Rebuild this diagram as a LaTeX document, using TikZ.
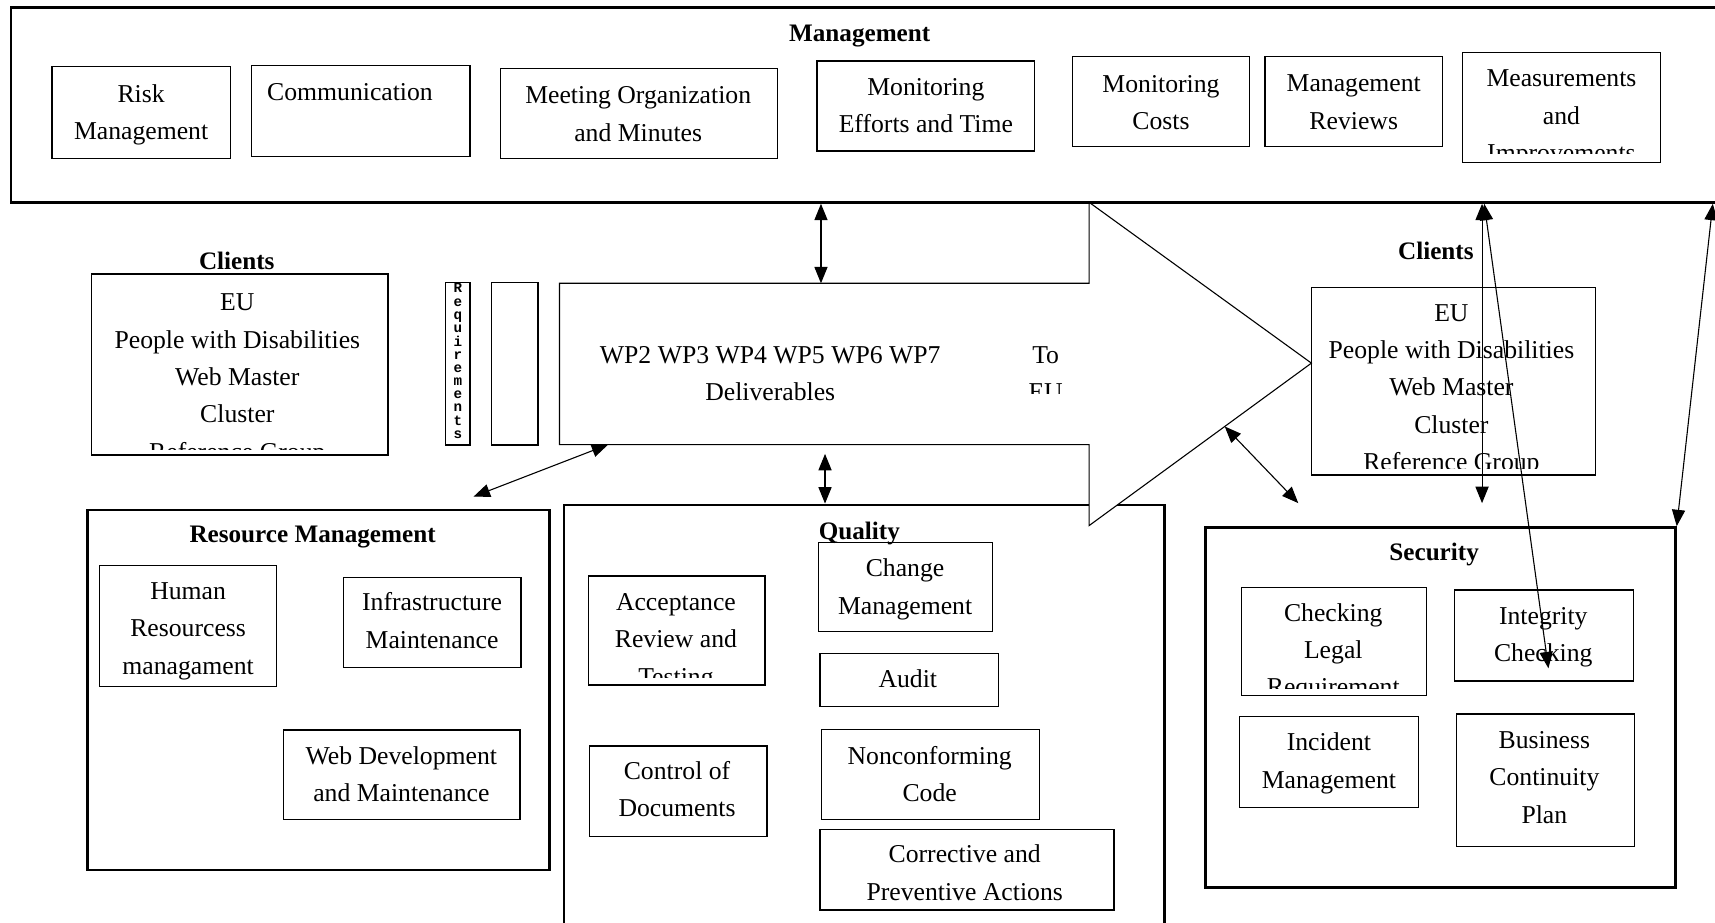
\documentclass[tikz,border=0pt]{standalone}
\usepackage{fontspec}
\setmainfont{Liberation Serif}
\newfontfamily\reqfont{Liberation Mono}
\usetikzlibrary{fit,arrows.meta,calc}
\newcommand\mylines[1]{\begin{tabular}[t]{@{}c@{}}#1\end{tabular}}
% name, x1, y1, x2, y2, text cx, first line centre y, clip bottom, text
\newcommand\bx[9]{%
  \node[box, fit={(#2,#3) (#4,#5)}] (#1) {};
  \begin{scope}
    \clip (#2,#3) rectangle (#4,#8);
    \node[txt] (#1t) at (#6,{#7+7}) {\mylines{#9}};
  \end{scope}}
\begin{document}
\begin{tikzpicture}[x=1pt,y=-1pt,
  box/.style={draw, line width=1.1pt, inner sep=0pt},
  group/.style={draw, line width=2.6pt, inner sep=0pt},
  txt/.style={anchor=base, inner sep=0pt, font=\fontsize{23.5}{34.2}\selectfont},
  ttl/.style={anchor=base, inner sep=0pt, font=\fontsize{23}{28}\selectfont\bfseries},
  dbl/.style={{Triangle[length=15pt,width=12pt]}-{Triangle[length=15pt,width=12pt]}, line width=1pt}]
\useasboundingbox (0,0) rectangle (1568,843);
\clip (0,0) rectangle (1568,843);

% ---------- Quality group (under the big arrow) ----------
\node[group, fit={(515.6,461.7) (1064.9,875)}] (quality) {};
\node[ttl] (qualityT) at (785.7,493) {Quality};

% ---------- big arrow ----------
\coordinate (abTL) at (511.5,259);
\coordinate (abTR) at (995.8,259);
\coordinate (ahTop) at (995.8,185);
\coordinate (ahTip) at (1199,332);
\coordinate (ahBot) at (995.8,480.5);
\coordinate (abBR) at (995.8,406.5);
\coordinate (abBL) at (511.5,406.5);
\draw[line width=1pt, fill=white] (abTL) -- (abTR) -- (ahTop) -- (ahTip) -- (ahBot) -- (abBR) -- (abBL) -- cycle;
\node[txt] (wp) at (704.2,332.2) {\mylines{WP2 WP3 WP4 WP5 WP6 WP7\\Deliverables}};
\begin{scope}
  \clip (930,300) rectangle (990,360);
  \node[txt] (toeu) at (956,332) {\mylines{To\\EU}};
\end{scope}

% ---------- Management ----------
\node[group, fit={(10,6.7) (1600,185)}] (mgmt) {};
\node[ttl] (mgmtT) at (786,37.5) {Management};
\bx{risk}{47.6}{61}{211}{145}{129}{86.3}{145}{Risk\\Management}
\bx{comm}{229.6}{59.7}{429.8}{143.2}{320}{85.3}{143.2}{Communication}
\bx{meet}{457.9}{62.5}{711}{144.8}{583.5}{88}{144.8}{Meeting Organization\\and Minutes}
\bx{moneff}{747}{55.8}{946}{138}{846.5}{80}{138}{Monitoring\\Efforts and Time}
\bx{moncost}{980.8}{51.8}{1142.3}{134}{1061.5}{77.5}{134}{Monitoring\\Costs}
\bx{mrev}{1156.6}{51.8}{1318.8}{134}{1237.7}{77}{134}{Management\\Reviews}
\bx{meas}{1336.8}{47.8}{1518.4}{148.7}{1427.6}{72.2}{140.5}{Measurements\\and\\Improvements}

% ---------- Clients ----------
\node[ttl] (cliLT) at (216.5,246.2) {Clients};
\bx{cliL}{83.6}{250.5}{354.7}{416}{217}{277}{411}{EU\\People with Disabilities\\Web Master\\Cluster\\Reference Group}
\node[ttl] (cliRT) at (1312.8,237) {Clients};
\bx{cliR}{1199}{263}{1458.8}{434.3}{1327}{286.5}{428}{EU\\People with Disabilities\\Web Master\\Cluster\\Reference Group}

% ---------- Requirements ----------
\node[box, fit={(407.5,258.4) (429.7,406.8)}] (req) {};
\begin{scope}
  \clip (407.5,258.4) rectangle (429.7,406.8);
  \node[anchor=base, inner sep=0pt, font=\reqfont\bfseries\fontsize{13}{11.97}\selectfont] (reqT) at (418.6,267.8)
    {\mylines{R\\e\\q\\u\\i\\r\\e\\m\\e\\n\\t\\s}};
\end{scope}
\node[box, fit={(449.3,258.4) (491.8,406.8)}] (empty) {};

% ---------- Resource Management ----------
\node[group, fit={(80,466.3) (502.1,795.4)}] (resource) {};
\node[ttl] (resourceT) at (285.8,496) {Resource Management};
\bx{human}{91.2}{517.1}{252.5}{627.8}{172}{540.9}{627.8}{Human\\Resourcess\\managament}
\bx{infra}{314.1}{527.8}{476.3}{610.4}{395}{551.6}{610.4}{Infrastructure\\Maintenance}
\bx{webdev}{259.5}{667.4}{475.4}{749}{367}{691.8}{749}{Web Development\\and Maintenance}

% ---------- Quality boxes ----------
\bx{accept}{537.8}{526.6}{699.4}{626.3}{618}{551}{619}{Acceptance\\Review and\\Testing}
\bx{change}{748.2}{496}{907.2}{577.5}{827.5}{520.5}{577.5}{Change\\Management}
\bx{audit}{749.7}{597.6}{912.8}{646.1}{830}{621.7}{646.1}{Audit}
\bx{control}{538.9}{682}{701.2}{765}{619}{705.5}{765}{Control of\\Documents}
\bx{noncon}{751.2}{667}{950.6}{749}{850}{691.8}{749}{Nonconforming\\Code}
\bx{correct}{749.7}{758.2}{1018.5}{832}{882}{781.7}{832}{Corrective and\\Preventive Actions}

% ---------- Security ----------
\node[group, fit={(1102.2,482.4) (1531.7,811.6)}] (security) {};
\node[ttl] (securityT) at (1311.2,512.9) {Security};
\bx{check}{1134.9}{537}{1304.4}{636}{1219}{560.8}{629.3}{Checking\\Legal\\Requirement}
\bx{integ}{1329.9}{539.4}{1493.7}{622.6}{1411}{563.8}{622.6}{Integrity\\Checking}
\bx{incid}{1133.4}{655.2}{1297.1}{738.4}{1215}{679.6}{738.4}{Incident\\Management}
\bx{busi}{1331.5}{652.8}{1494.7}{774.1}{1412}{677.2}{774.1}{Business\\Continuity\\Plan}

% ---------- connectors ----------
\coordinate (a2s) at (433,454);
\coordinate (a3s) at (754.3,415);
\coordinate (a4e) at (1187,460);
\coordinate (a5e) at (1355,460);
\coordinate (a6e) at (1415.7,611);
\draw[dbl] (750.6,0 |- mgmt.south) -- (750.6,0 |- abTL);
\draw[dbl] (a2s) -- (556,0 |- abBL);
\draw[dbl] (a3s) -- (a3s |- quality.north);
\draw[dbl] ($(ahTip)!0.39!(ahBot)$) -- (a4e);
\draw[dbl] (a5e |- mgmt.south) -- (a5e);
\draw[dbl] (1357,0 |- mgmt.south) -- (a6e);
\draw[dbl] (1566,0 |- mgmt.south) -- (security.north east);
\end{tikzpicture}
\end{document}
